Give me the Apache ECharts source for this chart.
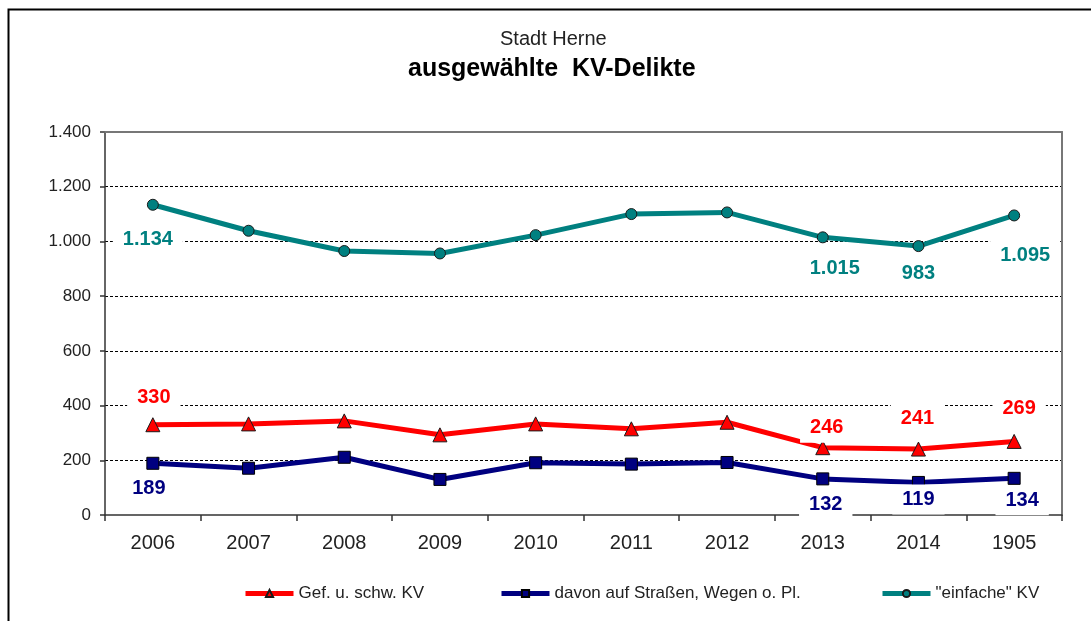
<!DOCTYPE html>
<html>
<head>
<meta charset="utf-8">
<script src="https://cdn.jsdelivr.net/npm/echarts@6/dist/echarts.min.js"></script>
<style>html,body{margin:0;padding:0;background:#fff}#c{width:1091px;height:621px}</style>
</head>
<body>
<div id="c"></div>
<script>
var categories = ['2006','2007','2008','2009','2010','2011','2012','2013','2014','1905'];
var yTicks = [0, 200, 400, 600, 800, 1000, 1200, 1400];
var gefKV = [330, 333, 344, 293, 333, 315, 339, 246, 241, 269];
var strassenKV = [189, 171, 211, 130, 191, 186, 192, 132, 119, 134];
var einfacheKV = [1134, 1039, 965, 956, 1023, 1100, 1106, 1015, 983, 1095];
var labelledIdx = [0, 7, 8, 9];

var FONT = 'Liberation Sans, Arial, sans-serif';
function de(v){ return String(v).replace(/\B(?=(\d{3})+(?!\d))/g, '.'); }

// label offsets (presentation only)
var offsets = {
  gef:      {0:[1,-27], 7:[4,-20], 8:[-1,-31], 9:[5,-33]},
  strassen: {0:[-4,25], 7:[3,26], 8:[0,17], 9:[8,22]},
  einfache: {0:[-5,35], 7:[12,31], 8:[0,27], 9:[11,40]}
};

function buildData(values, key, color){
  return values.map(function(v, i){
    var item = {value: v};
    if (labelledIdx.indexOf(i) >= 0) {
      item.label = {
        show: true, position: 'inside', offset: offsets[key][i],
        formatter: function(p){ return de(p.value); },
        color: color, fontSize: 20, fontWeight: 'bold', fontFamily: FONT,
        backgroundColor: '#fff', padding: [4, 10], lineHeight: 22
      };
    }
    return item;
  });
}

var chart = echarts.init(document.getElementById('c'), null, {renderer: 'canvas'});
var legendCommon = {
  top: 585, itemWidth: 48, itemHeight: 9, itemGap: 0, padding: 0,
  lineStyle: {width: 5},
  textStyle: {fontFamily: FONT, fontSize: 17, color: '#222'},
  selectedMode: false
};
chart.setOption({
  backgroundColor: '#fff',
  animation: false,
  title: [
    {text: 'Stadt Herne', left: 495, top: 24,
     textStyle: {fontFamily: FONT, fontSize: 20, fontWeight: 'normal', color: '#222'}},
    {text: 'ausgewählte  KV-Delikte', left: 403, top: 52,
     textStyle: {fontFamily: FONT, fontSize: 25, fontWeight: 'bold', color: '#000'}}
  ],
  graphic: [{
    type: 'rect', left: 6, top: 7, z: -10,
    shape: {width: 1120, height: 700},
    style: {fill: 'none', stroke: '#000', lineWidth: 2}
  }],
  legend: [
    Object.assign({left: 243, data: ['Gef. u. schw. KV']}, legendCommon),
    Object.assign({left: 499, data: ['davon auf Straßen, Wegen o. Pl.']}, legendCommon),
    Object.assign({left: 880, data: ['"einfache" KV']}, legendCommon)
  ],
  grid: {left: 105, right: 29, top: 132, bottom: 106},
  xAxis: [{
    type: 'category', data: categories, boundaryGap: true,
    axisLine: {lineStyle: {color: '#333', width: 1.5}},
    axisTick: {show: true, length: 6, lineStyle: {color: '#333', width: 1.5}},
    axisLabel: {fontFamily: FONT, fontSize: 20, color: '#222', margin: 18},
    splitLine: {show: false}
  }, {
    type: 'category', data: categories, position: 'top', z: 5,
    axisLine: {show: true, onZero: false, lineStyle: {color: '#777', width: 2}},
    axisTick: {show: false}, axisLabel: {show: false}
  }],
  yAxis: [{
    type: 'value', min: yTicks[0], max: yTicks[yTicks.length-1], interval: 200,
    axisLine: {show: true, lineStyle: {color: '#333', width: 1.5}},
    axisTick: {show: true, length: 5, lineStyle: {color: '#333', width: 1.5}},
    axisLabel: {fontFamily: FONT, fontSize: 17, color: '#222', margin: 14,
                formatter: function(v){ return de(v); }},
    splitLine: {show: true, showMinLine: false, showMaxLine: false,
                lineStyle: {color: '#000', width: 1, type: [3, 2]}}
  }, {
    type: 'value', min: yTicks[0], max: yTicks[yTicks.length-1], interval: 200, position: 'right',
    axisLine: {show: true, onZero: false, lineStyle: {color: '#777', width: 2}},
    axisTick: {show: false}, axisLabel: {show: false}, splitLine: {show: false}
  }],
  series: [
    {
      name: '"einfache" KV', type: 'line', data: buildData(einfacheKV, 'einfache', '#008080'),
      symbol: 'circle', symbolSize: 11,
      lineStyle: {color: '#008080', width: 5},
      itemStyle: {color: '#008080', borderColor: '#1a1a1a', borderWidth: 1},
      z: 3
    },
    {
      name: 'Gef. u. schw. KV', type: 'line', data: buildData(gefKV, 'gef', '#ff0000'),
      symbol: 'triangle', symbolSize: 14,
      lineStyle: {color: '#ff0000', width: 5},
      itemStyle: {color: '#ff0000', borderColor: '#1a1a1a', borderWidth: 1},
      z: 4
    },
    {
      name: 'davon auf Straßen, Wegen o. Pl.', type: 'line', data: buildData(strassenKV, 'strassen', '#000080'),
      symbol: 'rect', symbolSize: 12,
      lineStyle: {color: '#000080', width: 5},
      itemStyle: {color: '#000080', borderColor: '#000', borderWidth: 1},
      z: 3
    }
  ]
});
</script>
</body>
</html>
